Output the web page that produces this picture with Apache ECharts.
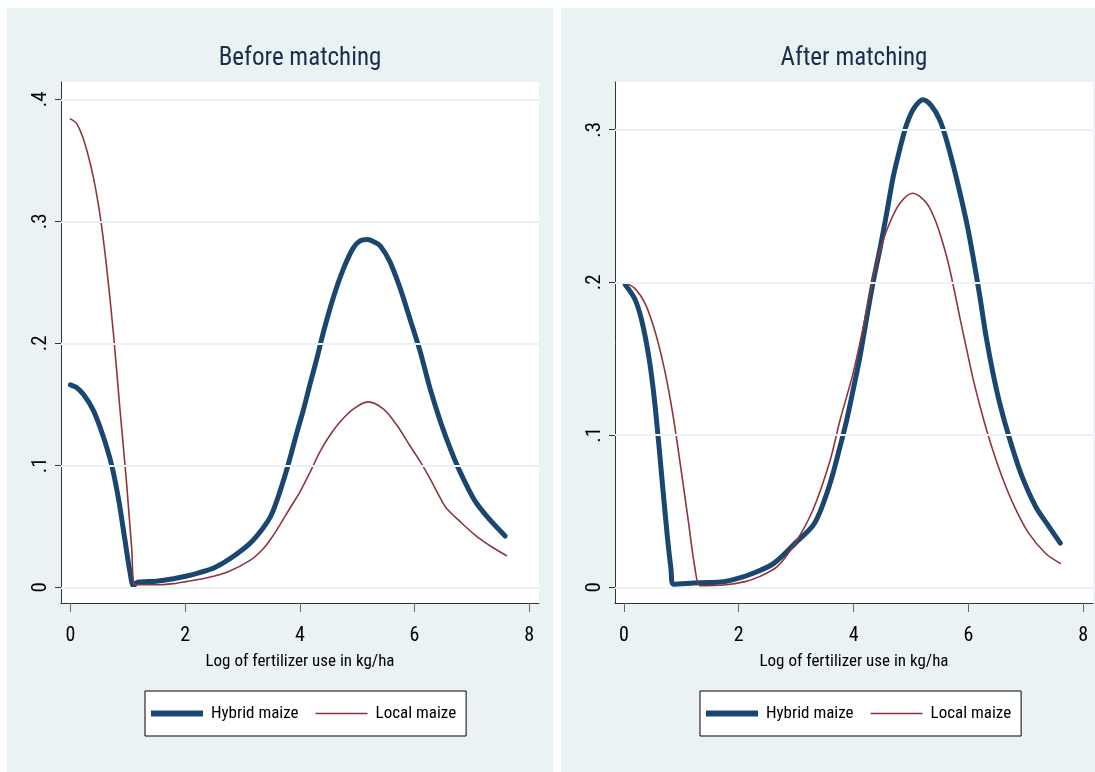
<!DOCTYPE html>
<html>
<head>
<meta charset="utf-8">
<script src="https://cdn.jsdelivr.net/npm/echarts@6/dist/echarts.min.js"></script>
<style>
html,body{margin:0;padding:0;background:#fff;}
#chart{width:1095px;height:772px;}
</style>
</head>
<body>
<div id="chart"></div>
<script>
// ---- data ----
const panelTitles = ['Before matching', 'After matching'];
const seriesNames = ['Hybrid maize', 'Local maize'];
const xAxisName = 'Log of fertilizer use in kg/ha';
const xTickValues = [0, 2, 4, 6, 8];
const xTickLabels = ['0', '2', '4', '6', '8'];
const yTickValuesBefore = [0, 0.1, 0.2, 0.3, 0.4];
const yTickLabelsBefore = ['0', '.1', '.2', '.3', '.4'];
const yTickValuesAfter = [0, 0.1, 0.2, 0.3];
const yTickLabelsAfter = ['0', '.1', '.2', '.3'];

const beforeHybrid = [[0.00,0.166],[0.10,0.164],[0.23,0.158],[0.40,0.145],[0.57,0.124],[0.72,0.100],[0.84,0.072],[0.95,0.039],[1.04,0.012],[1.10,0.001],[1.16,0.004],[1.50,0.005],[1.80,0.007],[2.01,0.009],[2.25,0.012],[2.51,0.016],[2.80,0.024],[3.13,0.036],[3.35,0.048],[3.50,0.059],[3.65,0.078],[3.80,0.101],[3.95,0.127],[4.06,0.145],[4.18,0.167],[4.30,0.188],[4.41,0.209],[4.58,0.237],[4.76,0.261],[4.93,0.278],[5.05,0.284],[5.18,0.285],[5.30,0.283],[5.40,0.280],[5.57,0.267],[5.75,0.245],[5.92,0.220],[6.10,0.193],[6.27,0.163],[6.45,0.136],[6.62,0.114],[6.79,0.095],[7.05,0.071],[7.30,0.056],[7.58,0.042]];
const beforeLocal = [[0.00,0.384],[0.11,0.380],[0.25,0.364],[0.40,0.336],[0.52,0.304],[0.63,0.263],[0.75,0.208],[0.86,0.148],[0.98,0.085],[1.07,0.031],[1.13,0.002],[1.50,0.002],[1.80,0.003],[2.01,0.0046],[2.40,0.008],[2.76,0.013],[3.13,0.022],[3.35,0.031],[3.50,0.040],[3.65,0.051],[3.83,0.065],[4.00,0.078],[4.18,0.0945],[4.35,0.111],[4.53,0.125],[4.70,0.1355],[4.93,0.146],[5.19,0.152],[5.46,0.146],[5.69,0.133],[5.92,0.116],[6.10,0.103],[6.27,0.089],[6.45,0.073],[6.56,0.0645],[6.79,0.054],[7.05,0.043],[7.35,0.033],[7.60,0.026]];
const afterHybrid = [[0.02,0.1985],[0.19,0.189],[0.31,0.175],[0.43,0.152],[0.52,0.127],[0.60,0.097],[0.68,0.064],[0.76,0.032],[0.82,0.012],[0.86,0.002],[1.30,0.003],[1.74,0.0037],[2.00,0.006],[2.24,0.009],[2.61,0.0157],[2.98,0.0288],[3.32,0.042],[3.59,0.068],[3.79,0.096],[3.88,0.1095],[3.99,0.129],[4.11,0.151],[4.23,0.177],[4.34,0.200],[4.46,0.222],[4.58,0.246],[4.69,0.269],[4.81,0.288],[4.92,0.303],[5.05,0.314],[5.21,0.3197],[5.35,0.316],[5.50,0.3066],[5.62,0.293],[5.80,0.267],[5.97,0.239],[6.08,0.217],[6.20,0.1905],[6.31,0.164],[6.43,0.140],[6.55,0.120],[6.72,0.097],[6.92,0.074],[7.17,0.053],[7.40,0.040],[7.60,0.029]];
const afterLocal = [[0.02,0.1996],[0.19,0.196],[0.37,0.186],[0.54,0.168],[0.70,0.144],[0.85,0.114],[1.00,0.076],[1.12,0.044],[1.24,0.012],[1.33,0.001],[1.74,0.0015],[2.11,0.0037],[2.36,0.007],[2.67,0.0135],[2.98,0.0288],[3.29,0.0505],[3.59,0.083],[3.76,0.109],[3.88,0.125],[3.99,0.140],[4.11,0.160],[4.23,0.182],[4.34,0.203],[4.46,0.221],[4.63,0.239],[4.81,0.252],[5.03,0.2584],[5.27,0.252],[5.44,0.239],[5.62,0.217],[5.73,0.199],[5.85,0.177],[5.97,0.156],[6.08,0.137],[6.20,0.119],[6.31,0.104],[6.45,0.087],[6.60,0.071],[6.80,0.053],[7.04,0.036],[7.35,0.022],[7.60,0.0157]];

// ---- styling ----
const FONT = "'Liberation Sans Narrow','Roboto Condensed','Arial Narrow',Roboto,sans-serif";
const BG = '#eaf2f3';
const NAVY = '#1a476f';
const MAROON = '#90353b';

function xAxisCfg(gi, min, max) {
  return {
    type: 'value', gridIndex: gi, min: min, max: max,
    name: xAxisName, nameLocation: 'middle', nameGap: 50,
    nameTextStyle: {fontFamily: FONT, fontSize: 17, color: '#000'},
    axisLine: {show: true, onZero: false, lineStyle: {color: '#333', width: 1}},
    axisTick: {show: true, length: 9, customValues: xTickValues, lineStyle: {color: '#666', width: 1}},
    axisLabel: {show: true, customValues: xTickValues, margin: 23, fontFamily: FONT, fontSize: 20, color: '#000',
      formatter: v => xTickLabels[xTickValues.indexOf(v)]},
    splitLine: {show: false}
  };
}
function yAxisCfg(gi, min, max, vals, labels) {
  return {
    type: 'value', gridIndex: gi, min: min, max: max,
    axisLine: {show: true, onZero: false, lineStyle: {color: '#333', width: 1}},
    axisTick: {show: true, length: 6, customValues: vals, lineStyle: {color: '#333', width: 1}},
    axisLabel: {show: true, customValues: vals, rotate: 90, margin: 10, fontFamily: FONT, fontSize: 21, color: '#000',
      formatter: v => { let i = vals.findIndex(t => Math.abs(t - v) < 1e-9); return i < 0 ? '' : labels[i]; }},
    splitLine: {show: false}
  };
}
function gridLines(gi, vals) {
  return {
    type: 'line', xAxisIndex: gi, yAxisIndex: gi, data: [], z: 1, silent: true,
    markLine: {silent: true, symbol: ['none', 'none'], animation: false, label: {show: false},
      lineStyle: {color: BG, width: 2, type: 'solid'},
      emphasis: {disabled: true},
      data: vals.map(v => ({yAxis: v}))}
  };
}
function curve(gi, name, data, color, width) {
  return {
    type: 'line', name: name, xAxisIndex: gi, yAxisIndex: gi, data: data,
    showSymbol: false, symbol: 'none', smooth: 0.3, z: 3,
    lineStyle: {color: color, width: width, cap: 'round', join: 'round'},
    itemStyle: {color: color}, emphasis: {disabled: true}
  };
}
// legend keys: a thick band for the hybrid line, a thin one for the local line
const legendIcons = ['path://M0,0M52,14M0,4H52V10H0Z', 'path://M0,0M52,14M0,6.2H52V7.8H0Z'];
function legendCfg(left) {
  return {
    data: seriesNames.map((n, i) => ({name: n, icon: legendIcons[i]})),
    left: left, top: 691, orient: 'horizontal',
    padding: [14, 10, 14, 6], itemGap: 17, itemWidth: 52, itemHeight: 14,
    backgroundColor: '#fff', borderColor: '#000', borderWidth: 1, borderRadius: 0,
    selectedMode: false,
    textStyle: {fontFamily: FONT, fontSize: 17, color: '#000', padding: [0, 0, 0, 3]}
  };
}

const chart = echarts.init(document.getElementById('chart'), null, {renderer: 'canvas'});
chart.setOption({
  animation: false,
  backgroundColor: '#fff',
  graphic: [
    {type: 'rect', left: 7, top: 8, shape: {width: 546, height: 764}, style: {fill: BG}, z: -10, silent: true},
    {type: 'rect', left: 561, top: 8, shape: {width: 534, height: 764}, style: {fill: BG}, z: -10, silent: true}
  ],
  title: [
    {text: panelTitles[0], left: 300, top: 46, textAlign: 'center', padding: 0,
      textStyle: {fontFamily: FONT, fontSize: 25, fontWeight: 'normal', color: '#1a2b4c'}},
    {text: panelTitles[1], left: 854, top: 46, textAlign: 'center', padding: 0,
      textStyle: {fontFamily: FONT, fontSize: 25, fontWeight: 'normal', color: '#1a2b4c'}}
  ],
  grid: [
    {left: 61, top: 82, width: 478, height: 521, show: true, backgroundColor: '#fff', borderWidth: 0},
    {left: 615, top: 82, width: 478, height: 521, show: true, backgroundColor: '#fff', borderWidth: 0}
  ],
  xAxis: [xAxisCfg(0, -0.164, 8.17), xAxisCfg(1, -0.155, 8.17)],
  yAxis: [yAxisCfg(0, -0.0129, 0.4142, yTickValuesBefore, yTickLabelsBefore),
          yAxisCfg(1, -0.0103, 0.3313, yTickValuesAfter, yTickLabelsAfter)],
  legend: [legendCfg(145), legendCfg(700)],
  series: [
    gridLines(0, yTickValuesBefore),
    gridLines(1, yTickValuesAfter),
    curve(0, seriesNames[0], beforeHybrid, NAVY, 5),
    curve(0, seriesNames[1], beforeLocal, MAROON, 1.6),
    curve(1, seriesNames[0], afterHybrid, NAVY, 5),
    curve(1, seriesNames[1], afterLocal, MAROON, 1.6)
  ]
});
</script>
</body>
</html>
